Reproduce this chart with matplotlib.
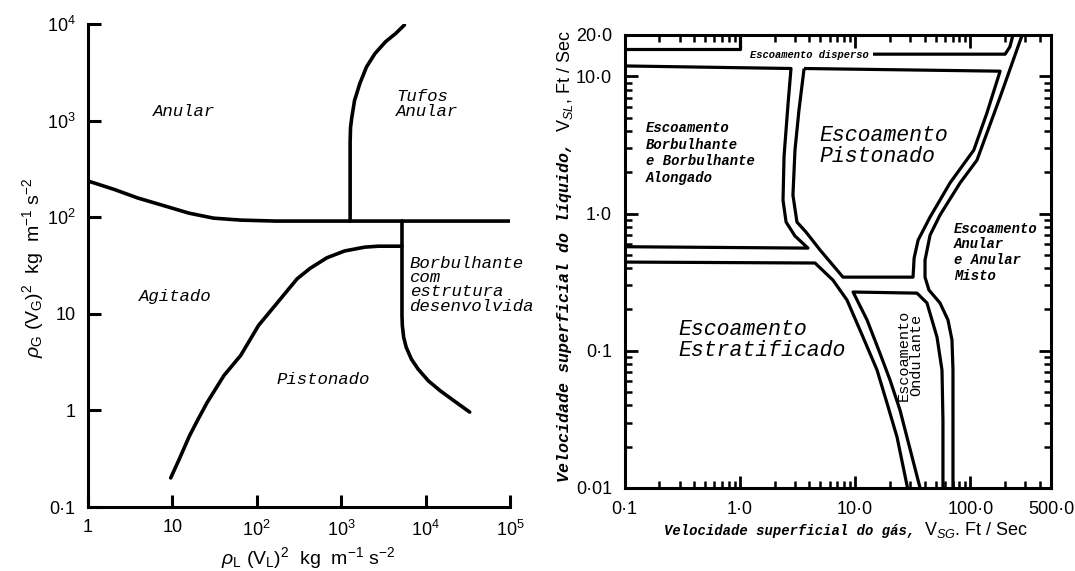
import matplotlib
matplotlib.use('Agg')
import matplotlib.pyplot as plt
from matplotlib.ticker import NullLocator, FixedLocator, NullFormatter

W, H = 1075, 571
plt.rcParams['font.family'] = ['Liberation Sans', 'DejaVu Sans']
plt.rcParams['mathtext.fontset'] = 'custom'
plt.rcParams['mathtext.rm'] = 'Liberation Sans'
plt.rcParams['mathtext.it'] = 'Liberation Sans:italic'
plt.rcParams['mathtext.bf'] = 'Liberation Sans:bold'

# ---------------- left map (Hewitt & Roberts) ----------------
left_xticks = [1, 10, 1e2, 1e3, 1e4, 1e5]
left_xticklabels = ['1', '10', '10$^2$', '10$^3$', '10$^4$', '10$^5$']
left_yticks = [0.1, 1, 10, 1e2, 1e3, 1e4]
left_yticklabels = ['0\u00b71', '1', '10', '10$^2$', '10$^3$', '10$^4$']

annular_x = [1, 2.04, 3.89, 8.3, 15.8, 30.9, 64.6, 166, 1e5]
annular_y = [237, 194, 158, 130, 110, 97.7, 93.3, 91.2, 91.2]

wispy_x = [1276, 1276, 1290, 1337, 1439, 1660, 1995, 2512, 3350, 4436, 5610]
wispy_y = [90.8, 600, 850, 1084, 1614, 2410, 3597, 4943, 6546, 7998, 9772]

bubbly_x = [5250, 5250, 5300, 5500, 5890, 6780, 8170, 10800, 15000, 21900, 33300]
bubbly_y = [91.2, 9.62, 7.55, 5.71, 4.50, 3.40, 2.67, 2.02, 1.59, 1.25, 0.96]

churn_x = [9.55, 12.0, 15.8, 20.0, 25.7, 40.7, 64.6, 105, 166, 219, 300, 427, 676, 1096, 1905, 2754, 5250]
churn_y = [0.20, 0.31, 0.537, 0.80, 1.20, 2.29, 3.72, 7.59, 12.3, 16.5, 23.0, 29.5, 38.0, 44.7, 49.0, 50.1, 50.1]

# ---------------- right map (Mandhane) ----------------
right_xticks = [0.1, 1, 10, 100, 500]
right_xticklabels = ['0\u00b71', '1\u00b70', '10\u00b70', '100\u00b70', '500\u00b70']
right_yticks = [0.01, 0.1, 1, 10, 20]
right_yticklabels = ['0\u00b701', '0\u00b71', '1\u00b70', '10\u00b70', '20\u00b70']

disp_left_x = [0.1, 1.0, 1.0]
disp_left_y = [15.7, 15.7, 20]
disp_right_x = [14.3, 200, 220, 234]
disp_right_y = [14.5, 14.5, 16.4, 20]

bub_x = [0.1, 2.78, 2.62, 2.42, 2.37, 2.52, 3.01, 3.90, 0.1]
bub_y = [11.9, 11.4, 6.28, 2.62, 1.25, 0.867, 0.686, 0.56, 0.573]

slug_x = [3.61, 181, 139, 107, 66.5, 44.7, 35.2, 32.5, 31.8, 7.85, 4.97, 3.75, 3.13, 2.89, 3.01, 3.26, 3.61]
slug_y = [11.4, 10.9, 5.40, 2.90, 1.67, 0.943, 0.641, 0.474, 0.344, 0.344, 0.542, 0.733, 0.867, 1.36, 2.90, 5.68, 11.4]

strat_x = [0.1, 4.49, 6.43, 8.51, 11.7, 15.5, 18.9, 23.1, 28.5]
strat_y = [0.443, 0.436, 0.327, 0.234, 0.126, 0.0723, 0.0416, 0.0235, 0.01]

wavy_x = [36.6, 24.5, 20.1, 16.4, 12.7, 9.6, 34.4, 42.0, 51.3, 56.7, 57.8, 57.8]
wavy_y = [0.01, 0.037, 0.0611, 0.0962, 0.1675, 0.268, 0.263, 0.223, 0.126, 0.0723, 0.0313, 0.01]

annul_x = [281, 181, 114, 81.3, 54.5, 44.7, 40.4, 40.4, 43.7, 54.5, 63.9, 69.2, 70.6, 70.6]
annul_y = [20, 7.06, 2.45, 1.67, 0.975, 0.697, 0.458, 0.344, 0.277, 0.223, 0.1675, 0.120, 0.0723, 0.01]

fig = plt.figure(figsize=(W / 100, H / 100), dpi=100)
mono = ['Liberation Mono', 'DejaVu Sans Mono']
LW = 2.3

# ---------- left axes ----------
ax1 = fig.add_axes([88 / W, 1 - 507 / H, 422 / W, 483 / H])
ax1.set_xscale('log')
ax1.set_yscale('log')
ax1.set_xlim(1, 1e5)
ax1.set_ylim(0.1, 1e4)
for s in ['top', 'right']:
    ax1.spines[s].set_visible(False)
for s in ['left', 'bottom']:
    ax1.spines[s].set_linewidth(2.2)
ax1.set_xticks(left_xticks)
ax1.set_xticklabels(left_xticklabels)
ax1.set_yticks(left_yticks)
ax1.set_yticklabels(left_yticklabels)
ax1.xaxis.set_minor_locator(NullLocator())
ax1.yaxis.set_minor_locator(NullLocator())
ax1.tick_params(direction='in', length=9, width=2.2, labelsize=13, pad=9)

for xs, ys in [(annular_x, annular_y), (wispy_x, wispy_y), (bubbly_x, bubbly_y), (churn_x, churn_y)]:
    ax1.plot(xs, ys, color='black', lw=2.6, solid_capstyle='round', solid_joinstyle='round')

tk = dict(family=mono, style='italic', fontsize=12.5, color='black')
ax1.text(13.8, 1230, 'Anular', ha='center', va='center', **tk)
ax1.text(4460, 1480, 'Tufos\nAnular', ha='left', va='center', linespacing=1.0, **tk)
ax1.text(10.7, 15.1, 'Agitado', ha='center', va='center', **tk)
ax1.text(617, 2.07, 'Pistonado', ha='center', va='center', **tk)
ax1.text(6450, 20, 'Borbulhante\ncom\nestrutura\ndesenvolvida', ha='left', va='center',
         linespacing=0.95, clip_on=False, **tk)

fig.text(308 / W, 1 - 558 / H, r'$\rho_\mathrm{L}\ (\mathrm{V}_\mathrm{L})^2$  kg  m$^{-1}$ s$^{-2}$',
         ha='center', va='center', fontsize=14)
fig.text(33 / W, 1 - 268 / H, r'$\rho_\mathrm{G}\ (\mathrm{V}_\mathrm{G})^2$  kg  m$^{-1}$ s$^{-2}$',
         ha='center', va='center', fontsize=14, rotation=90)

# ---------- right axes ----------
ax2 = fig.add_axes([624.5 / W, 1 - 488 / H, 426.5 / W, 453 / H])
ax2.set_xscale('log')
ax2.set_yscale('log')
ax2.set_xlim(0.1, 500)
ax2.set_ylim(0.01, 20)
for s in ax2.spines.values():
    s.set_linewidth(2.2)
ax2.set_xticks(right_xticks)
ax2.set_xticklabels(right_xticklabels)
ax2.set_yticks(right_yticks)
ax2.set_yticklabels(right_yticklabels)
xminor = [m * d for d in (0.1, 1, 10) for m in range(2, 10)] + [200, 300, 400]
yminor = [m * d for d in (0.01, 0.1, 1) for m in range(2, 10)]
ax2.xaxis.set_minor_locator(FixedLocator(xminor))
ax2.yaxis.set_minor_locator(FixedLocator(yminor))
ax2.xaxis.set_minor_formatter(NullFormatter())
ax2.yaxis.set_minor_formatter(NullFormatter())
ax2.tick_params(which='major', direction='in', length=9, width=2, top=True, right=True,
                labelsize=13, pad=9)
ax2.tick_params(which='minor', direction='in', length=5, width=1.8, top=True, right=True)

for xs, ys in [(disp_left_x, disp_left_y), (disp_right_x, disp_right_y), (bub_x, bub_y),
               (slug_x, slug_y), (strat_x, strat_y), (wavy_x, wavy_y), (annul_x, annul_y)]:
    ax2.plot(xs, ys, color='black', lw=LW, solid_capstyle='butt', solid_joinstyle='round', clip_on=False)

sm = dict(family=mono, style='italic', fontsize=10, color='black', weight='bold')
big = dict(family=mono, style='italic', fontsize=15.5, color='black')
ax2.text(3.98, 14.3, 'Escoamento disperso', ha='center', va='center', family=mono,
         style='italic', weight='bold', fontsize=7.5)
ax2.text(0.1536, 2.76, 'Escoamento\nBorbulhante\ne Borbulhante\nAlongado', ha='left', va='center',
         linespacing=1.25, **sm)
ax2.text(4.94, 3.13, 'Escoamento\nPistonado', ha='left', va='center', linespacing=1.0, **big)
ax2.text(72.1, 0.524, 'Escoamento\nAnular\ne Anular\nMisto', ha='left', va='center',
         linespacing=1.15, **sm)
ax2.text(0.291, 0.120, 'Escoamento\nEstratificado', ha='left', va='center', linespacing=1.0, **big)
ax2.text(29.9, 0.0931, 'Escoamento\nOndulante', ha='center', va='center', rotation=90,
         family=mono, fontsize=11, linespacing=0.8)

# axis labels (mixed fonts)
fig.canvas.draw()
r = fig.canvas.get_renderer()
t1 = fig.text(664 / W, 1 - 531 / H, 'Velocidade superficial do g\u00e1s, ', ha='left', va='center',
              family=mono, style='italic', weight='bold', fontsize=10)
bb = t1.get_window_extent(r)
fig.text(bb.x1 / W, 1 - 530 / H, r'V$_{SG}$. Ft / Sec', ha='left', va='center', fontsize=13)

t2 = fig.text(565 / W, 1 - 482 / H, 'Velocidade superficial do l\u00edquido, ', ha='center', va='bottom',
              rotation=90, family=mono, style='italic', weight='bold', fontsize=12)
bb2 = t2.get_window_extent(r)
fig.text(565 / W, bb2.y1 / H, r'V$_{SL}$, Ft / Sec', ha='center', va='bottom', rotation=90, fontsize=13)

fig.savefig('out.png', dpi=100)
